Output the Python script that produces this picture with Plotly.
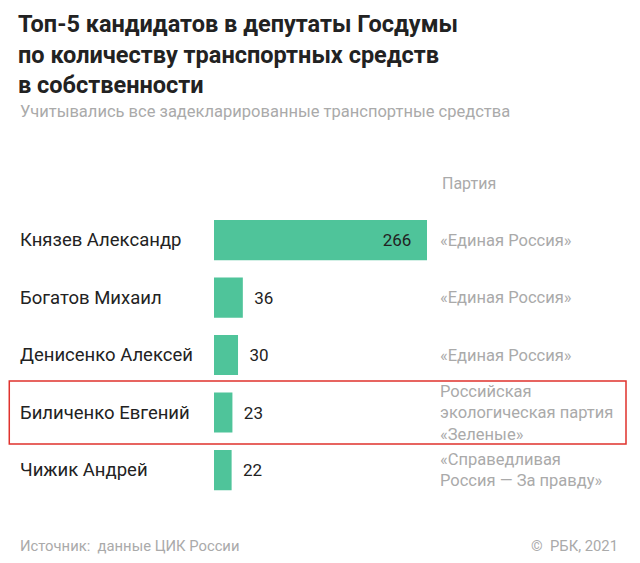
import plotly.graph_objects as go

names = ["Князев Александр", "Богатов Михаил", "Денисенко Алексей", "Биличенко Евгений", "Чижик Андрей"]
values = [266, 36, 30, 23, 22]
parties = ["«Единая Россия»", "«Единая Россия»", "«Единая Россия»",
           "Российская<br>экологическая партия<br>«Зеленые»", "«Справедливая<br>Россия — За правду»"]

W, H = 640, 563
O = 8  # page body offset
pos = list(range(len(names)))
GREEN = "#4fc49a"
FONT = "Roboto"

fig = go.Figure(go.Bar(
    x=values, y=pos, orientation="h", width=0.7,
    marker=dict(color=GREEN, line=dict(width=0)),
    text=[f"{v}   " for v in values[:1]] + [f"  {v}" for v in values[1:]],
    textposition=["inside"] + ["outside"] * 4,
    insidetextanchor="end",
    textfont=dict(family=FONT, size=17, color="#222222"),
    cliponaxis=False,
))

y_top, y_bot = 240 - 28.75 - O, 470 + 28.75 - O
fig.update_layout(
    width=W, height=H, margin=dict(l=0, r=0, t=0, b=0),
    paper_bgcolor="white", plot_bgcolor="white", showlegend=False,
    font=dict(family=FONT),
    xaxis=dict(domain=[(214 - O) / W, (427 - O) / W], range=[0, 266], visible=False),
    yaxis=dict(domain=[1 - y_bot / H, 1 - y_top / H], range=[4.5, -0.5], visible=False),
)

ann = []
def px(x, y, text, size, color, anchor="left", bold=False, yanchor="middle"):
    ann.append(dict(x=(x - O) / W, y=1 - (y - O) / H, xref="paper", yref="paper",
                    text=f"<b>{text}</b>" if bold else text,
                    showarrow=False, xanchor=anchor, yanchor=yanchor, align=anchor,
                    font=dict(family=FONT, size=size, color=color)))

px(16, 8, "Топ-5 кандидатов в депутаты Госдумы<br>по количеству транспортных средств<br>в собственности",
   23.5, "#222222", bold=True, yanchor="top")
px(18, 112, "Учитывались все задекларированные транспортные средства", 16.5, "#aaaaaa")
px(440, 184, "Партия", 16, "#aaaaaa")
for i in pos:
    ann.append(dict(x=(18 - O) / W, y=i, xref="paper", yref="y", text=names[i], showarrow=False,
                    xanchor="left", yanchor="middle", font=dict(family=FONT, size=18.5, color="#222222")))
    ann.append(dict(x=(438 - O) / W, y=i, xref="paper", yref="y", text=parties[i], showarrow=False,
                    xanchor="left", yanchor="middle", align="left",
                    font=dict(family=FONT, size=16.5, color="#aaaaaa")))
px(18, 546, "Источник:  данные ЦИК России", 14.8, "#aaaaaa")
px(620, 546, "©  РБК, 2021", 14.8, "#aaaaaa", anchor="right")
fig.update_layout(annotations=ann)

fig.add_shape(type="rect", xref="paper", yref="paper", x0=(8 - O) / W + 0.002, x1=(626 - O) / W,
              y0=1 - (444 - O) / H, y1=1 - (381 - O) / H, line=dict(color="#e0322d", width=1.5))

fig.write_html("out.html")
